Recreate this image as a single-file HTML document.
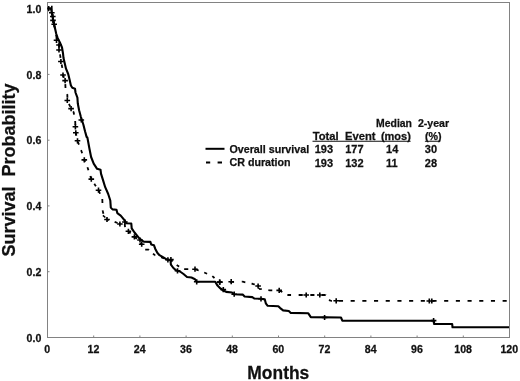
<!DOCTYPE html>
<html><head><meta charset="utf-8"><title>Survival</title>
<style>
html,body{margin:0;padding:0;background:#fff;}
body{width:520px;height:381px;overflow:hidden;font-family:"Liberation Sans",sans-serif;}
svg{display:block;}
text{font-family:"Liberation Sans",sans-serif;font-weight:bold;fill:#111;stroke:#111;stroke-width:0.25px;}
</style></head><body>
<svg style="will-change:transform;filter:grayscale(1)" width="520" height="381" viewBox="0 0 520 381">
<rect width="520" height="381" fill="#fff"/>
<rect x="47.5" y="2.5" width="462" height="335" fill="none" stroke="#828282" stroke-width="1"/>
<path d="M93.7,337.5v-2M139.9,337.5v-2M186.1,337.5v-2M232.3,337.5v-2M278.5,337.5v-2M324.7,337.5v-2M370.9,337.5v-2M417.1,337.5v-2M463.3,337.5v-2M47.5,271.7h2M47.5,205.9h2M47.5,140.2h2M47.5,74.4h2M47.5,8.6h2" stroke="#828282" stroke-width="1" fill="none"/>
<g font-size="10.2"><text transform="translate(47.3,352.9) scale(1.04,1)" text-anchor="middle" >0</text><text transform="translate(93.5,352.9) scale(1.04,1)" text-anchor="middle" >12</text><text transform="translate(139.7,352.9) scale(1.04,1)" text-anchor="middle" >24</text><text transform="translate(185.9,352.9) scale(1.04,1)" text-anchor="middle" >36</text><text transform="translate(232.1,352.9) scale(1.04,1)" text-anchor="middle" >48</text><text transform="translate(278.3,352.9) scale(1.04,1)" text-anchor="middle" >60</text><text transform="translate(324.5,352.9) scale(1.04,1)" text-anchor="middle" >72</text><text transform="translate(370.7,352.9) scale(1.04,1)" text-anchor="middle" >84</text><text transform="translate(416.9,352.9) scale(1.04,1)" text-anchor="middle" >96</text><text transform="translate(463.1,352.9) scale(1.04,1)" text-anchor="middle" >108</text><text transform="translate(509.3,352.9) scale(1.04,1)" text-anchor="middle" >120</text><text transform="translate(41.3,341.6) scale(1.04,1)" text-anchor="end" >0.0</text><text transform="translate(41.3,275.9) scale(1.04,1)" text-anchor="end" >0.2</text><text transform="translate(41.3,210.1) scale(1.04,1)" text-anchor="end" >0.4</text><text transform="translate(41.3,144.3) scale(1.04,1)" text-anchor="end" >0.6</text><text transform="translate(41.3,78.5) scale(1.04,1)" text-anchor="end" >0.8</text><text transform="translate(41.3,12.8) scale(1.04,1)" text-anchor="end" >1.0</text></g>
<text transform="translate(15.2,256.5) rotate(-90)" font-size="18" xml:space="preserve">Survival  Probability</text>
<text transform="translate(278.3,378.5) scale(0.985,1)" text-anchor="middle" font-size="17.7">Months</text>
<path d="M47.50,8.50L51.00,8.50M51.00,8.50L51.08,8.92M52.32,15.27L52.60,16.60M52.60,16.60L52.94,18.75M54.26,25.02L54.90,28.48M56.09,34.88L56.30,36.00M56.30,36.00L56.69,38.38M58.60,44.06L59.00,45.00M59.00,45.00L59.16,47.60M60.02,54.33L60.30,56.00M60.30,56.00L60.51,57.94M61.60,64.44L62.20,67.00M62.20,67.00L62.29,67.85M62.98,74.75L63.00,75.00M63.00,75.00L64.04,77.79M65.29,84.13L65.50,88.00M65.50,88.00L65.50,88.02M67.21,93.90L67.30,94.20M67.30,94.20L67.41,97.80M68.97,103.83L69.40,104.80M69.40,104.80L70.23,106.67M73.13,111.36L73.60,112.00M73.60,112.00L74.05,114.54M75.20,120.98L75.20,121.00M75.20,121.00L75.34,124.94M75.75,132.12L75.80,132.80M75.80,132.80L76.39,135.58M77.85,141.71L78.98,144.68M81.08,150.17L81.40,151.00M81.40,151.00L82.12,153.22M83.99,158.95L84.30,159.90M84.30,159.90L85.14,161.90M87.38,167.25L87.70,168.00M87.70,168.00L88.44,170.29M90.30,176.02L91.30,179.10M91.30,179.10L91.31,179.11M94.28,183.73L95.10,185.00M95.10,185.00L95.89,186.22M98.80,190.90L100.04,193.76M102.30,199.09L102.44,203.05M102.68,210.40L102.70,211.00M102.70,211.00L103.42,213.76M106.20,218.57L107.00,219.50M107.00,219.50L108.82,220.05M114.64,221.82L117.54,223.02M123.98,224.17L124.70,224.20M124.70,224.20L125.07,227.18M128.47,231.37L130.59,233.35M134.53,237.00L136.90,238.73M140.52,242.70L141.70,244.20M141.70,244.20L142.24,245.08M145.21,249.70L148.90,249.70M148.90,249.70L149.11,249.90M153.04,253.56L154.80,255.20M154.80,255.20L155.33,255.37M161.04,257.25L164.03,258.36M170.18,259.80L170.90,259.80M170.90,259.80L172.66,261.42M176.70,264.97L179.00,266.50M179.00,266.50L179.17,266.60M184.16,269.20L188.26,269.20M195.63,269.42L198.65,270.50M204.22,272.52L207.10,273.74M212.33,276.10L214.50,278.03M218.70,281.42L219.60,282.10M219.60,282.10L222.16,282.06M229.89,281.92L234.06,281.85M241.78,281.72L242.70,281.70M242.70,281.70L245.33,282.27M251.57,283.62L253.30,284.00M253.30,284.00L254.70,284.59M258.78,288.10L259.00,288.80M259.00,288.80L261.76,289.22M268.36,290.21L269.60,290.40M269.60,290.40L272.27,290.40M279.63,290.63L282.31,292.05M287.28,294.67L287.90,295.00M287.90,295.00L291.05,295.00M298.64,295.00L302.74,295.00M310.33,295.00L314.43,295.00M322.02,295.00L325.60,295.00M325.60,295.00L325.83,295.29M329.17,299.54L330.40,300.90M330.40,300.90L331.91,300.90" fill="none" stroke="#000" stroke-width="1.8" stroke-linecap="butt"/>
<path d="M509,300.9H338" fill="none" stroke="#000" stroke-width="1.8" stroke-dasharray="4.1 7.59" stroke-dashoffset="9.4"/>
<path d="M48.7,5.9v5.4M51.8,5.7v5.2M102.9,215.4L105.3,217.5M49.0,12.7h5.6M51.8,10.1v5.2M50.0,16.5h5.6M52.8,13.9v5.2M50.2,20.4h5.6M53.0,17.799999999999997v5.2M51.400000000000006,24.2h5.6M54.2,21.599999999999998v5.2M53.7,40.3h5.6M56.5,37.699999999999996v5.2M56.2,45h5.6M59,42.4v5.2M56.2,50h5.6M59,47.4v5.2M58.1,61.5h5.6M60.9,58.9v5.2M60.2,75h5.6M63,72.4v5.2M62.3,80.6h5.6M65.1,78.0v5.2M64.5,100.5h5.6M67.3,97.9v5.2M68.3,108.6h5.6M71.1,106.0v5.2M72.60000000000001,126.8h5.6M75.4,124.2v5.2M73.0,132.8h5.6M75.8,130.20000000000002v5.2M74.7,140.8h5.6M77.5,138.20000000000002v5.2M81.5,159.9h5.6M84.3,157.3v5.2M88.5,179.1h5.6M91.3,176.5v5.2M95.7,190.2h5.6M98.5,187.6v5.2M104.2,219.5h5.6M107,216.9v5.2M117.10000000000001,224h5.6M119.9,221.4v5.2M125.60000000000001,231.3h5.6M128.4,228.70000000000002v5.2M131.6,236.9h5.6M134.4,234.3v5.2M138.89999999999998,244.2h5.6M141.7,241.6v5.2M165.1,259.8h5.6M167.9,257.2v5.2M168.1,259.6h5.6M170.9,257.0v5.2M192.2,269.2h5.6M195,266.59999999999997v5.2M216.79999999999998,282.1h5.6M219.6,279.5v5.2M228.39999999999998,281.7h5.6M231.2,279.09999999999997v5.2M255.3,286h5.6M258.1,283.4v5.2M276.4,290.4h5.6M279.2,287.79999999999995v5.2M303.4,295h5.6M306.2,292.4v5.2M317.0,295h5.6M319.8,292.4v5.2M333.4,300.8h5.6M336.2,298.2v5.2M426.5,301h5.6M429.3,298.4v5.2M429.0,301h5.6M431.8,298.4v5.2" fill="none" stroke="#000" stroke-width="1.6"/>
<path d="M47.5,8.5L51.0,8.5L51.8,12.8L52.6,16.6L53.2,20.4L54.2,24.7L56.3,34L57.7,38.2L59.9,42.4L62,47.5L63.0,53.4L63.5,58L66,68.7L68.2,74L69.6,79.8L70.9,85.5L72.3,87.8L75,88.7L75.5,92.5L77.4,97.6L77.8,103.5L79.1,110.3L80.9,117L83.4,124.7L85.1,131.5L86.6,136.9L87.4,137.6L89.4,148.5L91.1,157L93.7,163.7L97.1,168.8L100.5,169.7L101,173.6L103.1,180.4L105.2,187.2L108.2,194L110.3,200.5L110.8,207.6L112.5,209.4L116.5,209.7L117.3,213.1L120.7,215.6L122.8,218.2L124.9,220.7L126.2,223.2L131.3,223.5L131.7,228.3L134.5,232.5L138.7,237.7L142.1,240.6L143.8,241.6L150.4,241.9L151.2,244.5L154,245.3L155.2,248.7L157.3,252.8L159.5,255.2L163.4,257.4L166.6,259.4L170.5,260.3L170.9,264.6L173.4,268L176,270.3L180,271.5L183.5,274L187,277L191.5,277.5L195,279.2L196.7,281.8L215.2,281.8L217.5,285.6L220.4,288.4L223.8,290.8L226.1,291.9L232,292.5L234.2,294.2L242.7,294.6L244.6,296.5L252.3,297.1L254.2,298.5L261,298.8L264.8,299.4L265.8,303.3L267.7,305.8L278.3,306.2L280.2,308.1L283.1,310.4L288.8,311L290.8,312.9L308.3,313.3L310.8,317.1L341,317.5L342.3,320.7L433.8,320.8L434.2,324L452.2,324L452.5,327.3L509,327.3" fill="none" stroke="#000" stroke-width="2.1" stroke-linejoin="round"/>
<path d="M78.5,120h5.6M81.3,117.4v5.2M122.10000000000001,222h5.6M124.9,219.4v5.2M137.2,240h5.6M140,237.4v5.2M174.7,270.8h5.6M177.5,268.2v5.2M193.89999999999998,281.8h5.6M196.7,279.2v5.2M217.0,282.1h5.6M219.8,279.5v5.2M220.5,289.6h5.6M223.3,287.0v5.2M231.39999999999998,294.2h5.6M234.2,291.59999999999997v5.2M258.2,298.8h5.6M261,296.2v5.2M321.8,317.5h5.6M324.6,314.9v5.2M430.8,320.6h5.6M433.6,318.0v5.2" fill="none" stroke="#000" stroke-width="1.6"/>
<path d="M205.5,148.8H224.5" stroke="#000" stroke-width="2"/>
<path d="M206,162.5h4.2M217.6,162.5h4.4" stroke="#000" stroke-width="2"/>
<g font-size="10.7"><text transform="translate(229.5,152.6) scale(1.0,1)" text-anchor="start" >Overall survival</text><text transform="translate(229.5,166.2) scale(1.0,1)" text-anchor="start" >CR duration</text><text transform="translate(376.1,126.5) scale(0.975,1)" text-anchor="start" >Median</text><text transform="translate(417.9,126.5) scale(0.99,1)" text-anchor="start" >2-year</text><text transform="translate(312.7,139.8) scale(1.05,1)" text-anchor="start" >Total</text><text transform="translate(345.0,139.8) scale(1.05,1)" text-anchor="start" >Event</text><text transform="translate(380.9,139.8) scale(1.03,1)" text-anchor="start" >(mos)</text><text transform="translate(424.9,139.8) scale(1.0,1)" text-anchor="start" >(%)</text><text transform="translate(314.7,153.0) scale(1.03,1)" text-anchor="start" >193</text><text transform="translate(345.2,153.0) scale(1.03,1)" text-anchor="start" >177</text><text transform="translate(386.0,153.0) scale(1.03,1)" text-anchor="start" >14</text><text transform="translate(424.8,153.0) scale(1.03,1)" text-anchor="start" >30</text><text transform="translate(314.7,167.0) scale(1.03,1)" text-anchor="start" >193</text><text transform="translate(345.2,167.0) scale(1.03,1)" text-anchor="start" >132</text><text transform="translate(386.0,167.0) scale(1.03,1)" text-anchor="start" >11</text><text transform="translate(424.8,167.0) scale(1.03,1)" text-anchor="start" >28</text><path d="M312.5,141.3H410.6M424.9,141.3H440.3" stroke="#111" stroke-width="1.1"/></g>
</svg>
</body></html>
